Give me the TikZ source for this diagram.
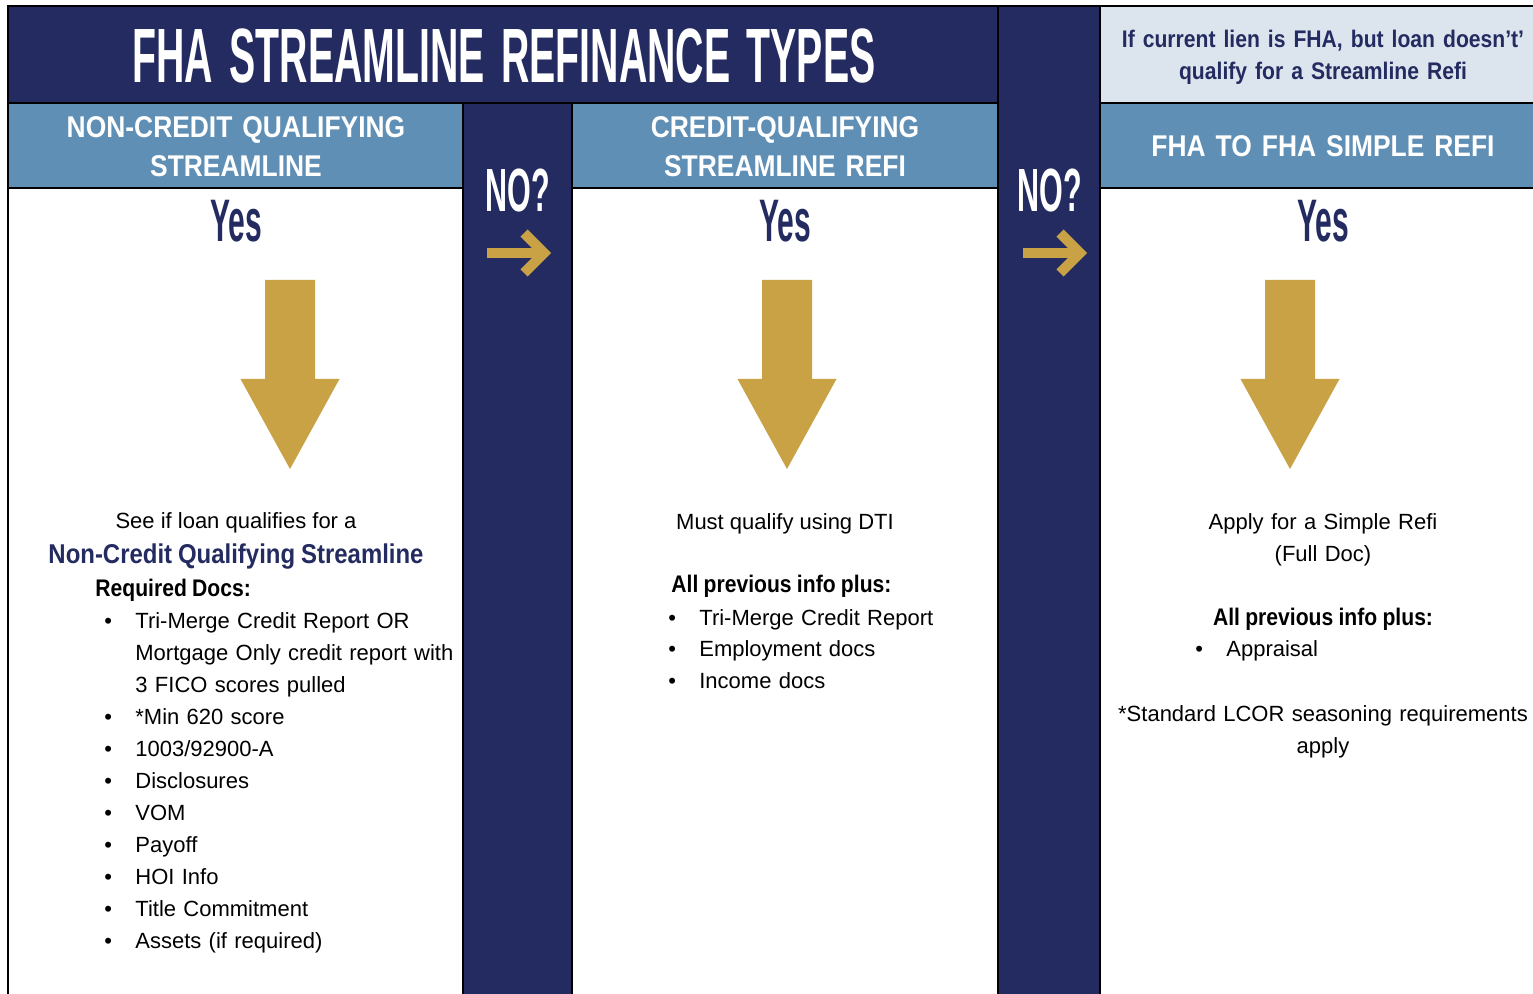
\documentclass[tikz,border=0pt]{standalone}
\usepackage{fontspec}
\setmainfont{Liberation Sans}
\newfontfamily\narrowfont[FakeStretch=0.88, WordSpace=0.9]{Liberation Sans}
\newfontfamily\tallfont[FakeStretch=0.5]{Liberation Sans}
\newfontfamily\titlefont[FakeStretch=0.51, WordSpace=1.5]{Liberation Sans}
\usetikzlibrary{positioning}

\definecolor{navy}{HTML}{232B60}
\definecolor{steel}{HTML}{608FB6}
\definecolor{mist}{HTML}{DCE5EE}
\definecolor{gold}{HTML}{C9A246}

% bullet line and continuation line of a doc list
\newcommand{\itm}[1]{\makebox[15.5pt][l]{\textbullet}#1}
\newcommand{\cont}[1]{\hspace*{15.5pt}#1}

\begin{document}
\begin{tikzpicture}[
    x=0.5pt, y=-0.5pt,
    band/.style={draw=black, line width=0.8pt},
    hdr/.style={text=white, font=\narrowfont\bfseries\fontsize{15}{19.5}\selectfont, align=center, text width=220pt, inner sep=0pt, anchor=base},
    yeslabel/.style={text=navy, font=\tallfont\bfseries\fontsize{30}{30}\selectfont, inner sep=0pt, anchor=base},
    nolabel/.style={text=white, font=\tallfont\bfseries\fontsize{30.5}{30.5}\selectfont, inner sep=0pt, anchor=base},
    bodytext/.style={font=\fontsize{11}{16}\selectfont, inner sep=0pt, anchor=base},
    leadtext/.style={font=\narrowfont\bfseries\fontsize{12}{16}\selectfont, inner sep=0pt, anchor=base},
    doclist/.style={bodytext, anchor=base west, text width=200pt, align=left},
    goldarrow/.pic={\fill[gold] (-25,0) -- (25,0) -- (25,99) -- (49.5,99) -- (0,189) -- (-49.5,99) -- (-25,99) -- cycle;},
    noarrow/.pic={\draw[gold, line width=5pt] (-32,0) -- (20,0);
                  \draw[gold, line width=5pt, line join=miter] (5,-20) -- (25,0) -- (5,20);}
]
\useasboundingbox (0,0) rectangle (1533,994);
\fill[white] (0,0) rectangle (1533,994);

% bands and columns
\draw[band, fill=navy] (8,6) rectangle (998,103);
\draw[band, fill=steel] (8,103) rectangle (463,188);
\draw[band, fill=steel] (572,103) rectangle (998,188);
\draw[band, fill=mist] (1100,6) rectangle (1540,103);
\draw[band, fill=steel] (1100,103) rectangle (1540,188);
\draw[band, fill=navy] (463,103) rectangle (572,1000);
\draw[band, fill=navy] (998,6) rectangle (1100,1000);
\draw[band] (8,188) -- (8,1000);

% headings
\node[font=\titlefont\bfseries\fontsize{38.5}{38.5}\selectfont, text=white, inner sep=0pt, anchor=base] (title) at (504,83) {FHA STREAMLINE REFINANCE TYPES};
\node[hdr] (noncredit) at (236,138) {NON-CREDIT QUALIFYING\\STREAMLINE};
\node[hdr] (credit) at (785,138) {CREDIT-QUALIFYING\\STREAMLINE REFI};
\node[hdr] (simple) at (1323,157) {FHA TO FHA SIMPLE REFI};
\node[hdr, text=navy, font=\narrowfont\bfseries\fontsize{12}{16}\selectfont] (lien) at (1323,48) {If current lien is FHA, but loan doesn’t’\\qualify for a Streamline Refi};

% yes / no markers
\node[yeslabel] (yes1) at (236,242) {Yes};
\node[yeslabel] (yes2) at (785,242) {Yes};
\node[yeslabel] (yes3) at (1323,242) {Yes};
\node[nolabel] (no1) at (518,212) {NO?};
\node[nolabel] (no2) at (1050,212) {NO?};
\pic (next1) at (519,253) {noarrow};
\pic (next2) at (1055,253) {noarrow};
\pic (down1) at (290,280) {goldarrow};
\pic (down2) at (787,280) {goldarrow};
\pic (down3) at (1290,280) {goldarrow};

% non-credit column
\node[bodytext] (seeif) at (236,529) {See if loan qualifies for a};
\node[leadtext, text=navy, font=\narrowfont\bfseries\fontsize{13.6}{16}\selectfont] (ncq) at (236,564) {Non-Credit Qualifying Streamline};
\node[leadtext, anchor=base west] (reqdocs) at (95,597) {Required Docs:};
\node[doclist] (docs1) at (104,629) {\itm{Tri-Merge Credit Report OR}\\
  \cont{Mortgage Only credit report with}\\
  \cont{3 FICO scores pulled}\\
  \itm{*Min 620 score}\\
  \itm{1003/92900-A}\\
  \itm{Disclosures}\\
  \itm{VOM}\\
  \itm{Payoff}\\
  \itm{HOI Info}\\
  \itm{Title Commitment}\\
  \itm{Assets (if required)}};

% credit column
\node[bodytext] (dti) at (785,530) {Must qualify using DTI};
\node[leadtext, anchor=base west] (prev2) at (671,593) {All previous info plus:};
\node[doclist] (docs2) at (668,625) {\itm{Tri-Merge Credit Report}\\
  \itm{Employment docs}\\
  \itm{Income docs}};

% simple refi column
\node[bodytext, text width=210pt, align=center] (apply) at (1323,530) {Apply for a Simple Refi\\(Full Doc)};
\node[leadtext] (prev3) at (1323,626) {All previous info plus:};
\node[doclist] (docs3) at (1195,657) {\itm{Appraisal}};
\node[bodytext, text width=215pt, align=center] (lcor) at (1323,722) {*Standard LCOR seasoning requirements\\apply};
\end{tikzpicture}
\end{document}
